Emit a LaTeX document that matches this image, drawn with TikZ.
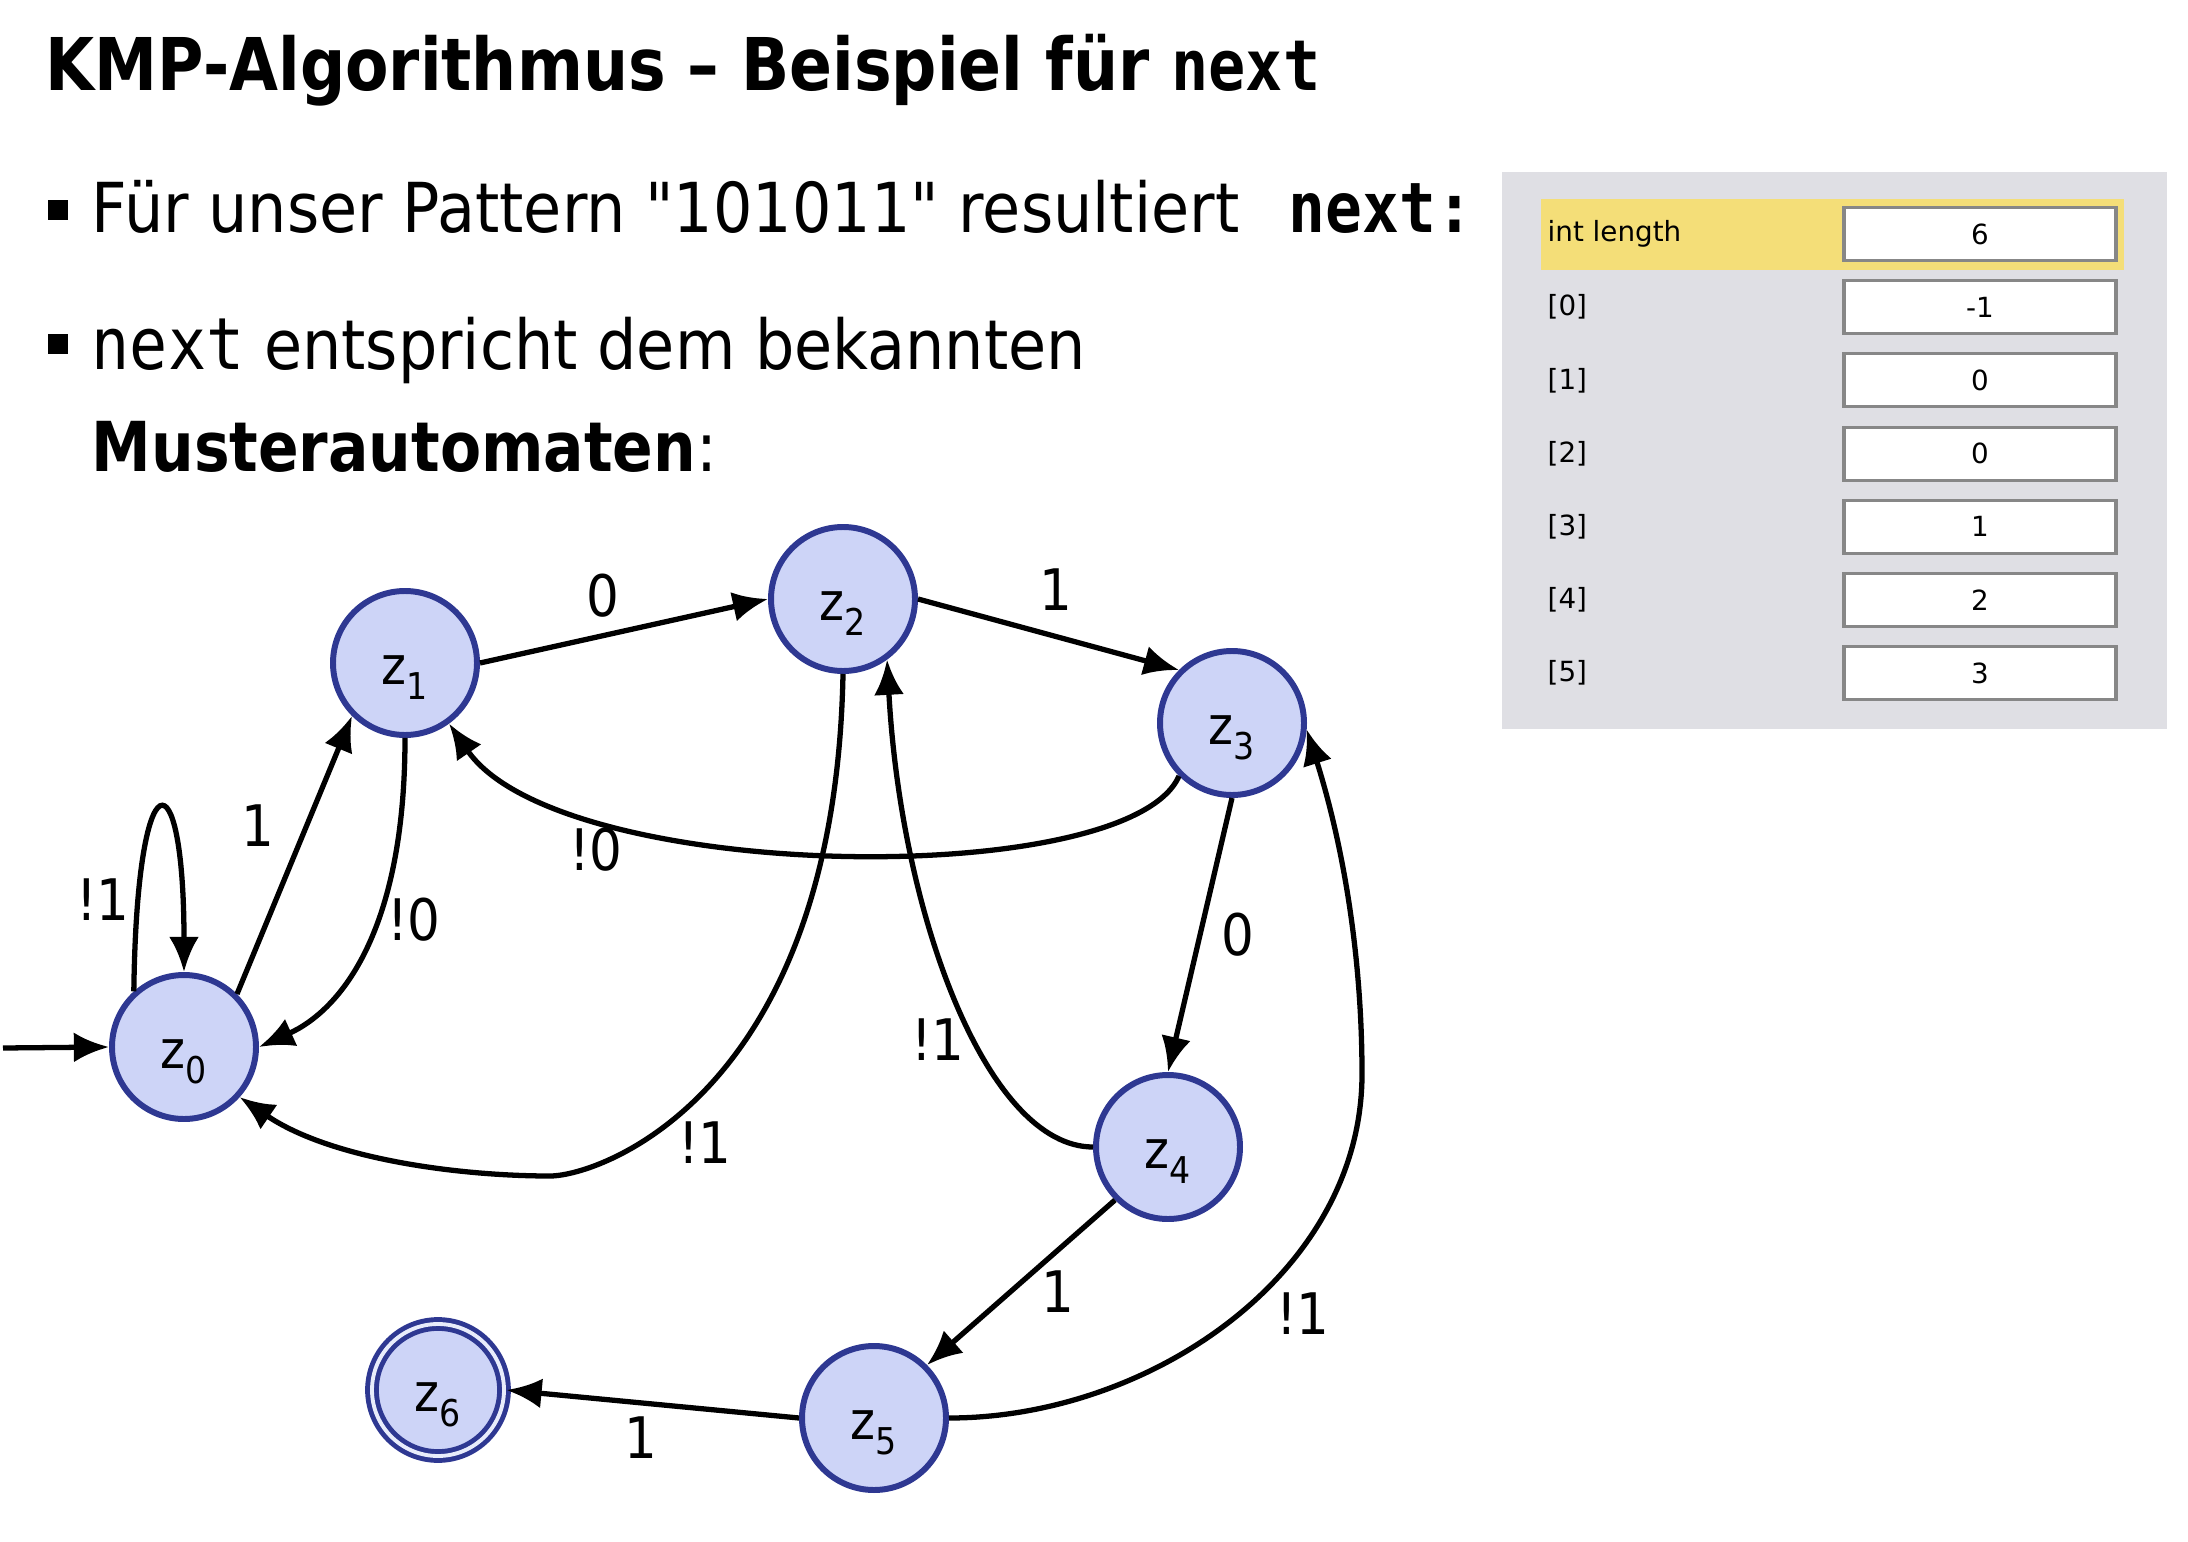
\documentclass[tikz,border=0pt]{standalone}
\usepackage{fontspec}
\setmainfont{DejaVu Sans}[FakeStretch=0.9,Ligatures=TeXOff,BoldFeatures={FakeStretch=0.87}]
\newfontfamily\monofam{DejaVu Sans Mono}[FakeStretch=0.88]
\newfontfamily\tabfam{DejaVu Sans}
\usetikzlibrary{arrows.meta}
\definecolor{statefill}{RGB}{205,212,247}
\definecolor{stateline}{RGB}{46,56,146}
\definecolor{panelgray}{RGB}{223,223,228}
\definecolor{rowyellow}{RGB}{244,222,120}
\definecolor{boxline}{RGB}{135,135,135}
\newcommand\zst[1]{z\raisebox{-0.55ex}{\fontsize{10.5}{10}\selectfont #1}}

\begin{document}
\begin{tikzpicture}[
  >={Latex[length=10pt,width=8.5pt]},
  zstate/.style={circle,draw=stateline,fill=statefill,line width=1.7pt,minimum size=1.44cm,inner sep=0pt,
    text height=12pt,text depth=0pt,font=\fontsize{15}{16}\selectfont},
  zfinal/.style={zstate,line width=1.4pt,minimum size=1.32cm,double=white!55!statefill,double distance=1.1pt},
  trans/.style={->,line width=1.5pt},
  lbl/.style={inner sep=0pt,font=\fontsize{16.3}{18}\selectfont},
  txt/.style={anchor=base west,inner sep=0pt,font=\fontsize{19.6}{24}\selectfont},
  valbox/.style={draw=boxline,fill=white,line width=0.9pt,minimum width=2.72cm,minimum height=0.53cm,
    inner sep=0pt,font=\tabfam\fontsize{7.9}{9}\selectfont},
]
\useasboundingbox (0,0) rectangle (21.88,-15.42);

\node[txt,font=\bfseries\fontsize{20.7}{24}\selectfont] (title) at (0.45,-0.91)
  {KMP-Algorithmus – Beispiel für {\monofam\fontsize{20}{24}\selectfont next}};

\fill (0.48,-2.00) rectangle (0.68,-2.20);
\node[txt] (pattern) at (0.91,-2.33)
  {Für unser Pattern "101011" resultiert\hspace{14pt}{\monofam\bfseries\fontsize{19.8}{24}\selectfont next:}};
\fill (0.48,-3.34) rectangle (0.68,-3.54);
\node[txt] (nextline) at (0.91,-3.70)
  {{\monofam\fontsize{20.5}{24}\selectfont next} entspricht dem bekannten};
\node[txt] (muster) at (0.91,-4.72) {\textbf{Musterautomaten}:};

\fill[panelgray] (15.02,-1.72) rectangle (21.67,-7.29);
\fill[rowyellow] (15.41,-1.99) rectangle (21.24,-2.70);
\foreach \name/\val [count=\i from 0] in {int length/6,{[0]}/-1,{[1]}/0,{[2]}/0,{[3]}/1,{[4]}/2,{[5]}/3}
{
  \node[anchor=west,inner sep=0pt,font=\tabfam\fontsize{7.9}{9}\selectfont] (key\i) at (15.47,{-2.34-0.732*\i}) {\name};
  \node[valbox] (val\i) at (19.80,{-2.34-0.732*\i}) {\val};
}

\node[zstate] (z0) at (1.84,-10.47) {\zst{0}};
\node[zstate] (z1) at (4.05,-6.63) {\zst{1}};
\node[zstate] (z2) at (8.43,-5.99) {\zst{2}};
\node[zstate] (z3) at (12.32,-7.23) {\zst{3}};
\node[zstate] (z4) at (11.68,-11.47) {\zst{4}};
\node[zstate] (z5) at (8.74,-14.18) {\zst{5}};
\node[zfinal] (z6) at (4.38,-13.90) {\zst{6}};

\coordinate (init) at (0.03,-10.48);
\coordinate (low) at (5.50,-11.76);
\coordinate (bend) at (13.62,-10.74);

\draw[trans] (init) -- (z0.west);
\draw[trans] (z0.132) .. controls +(0.03,2.38) and +(0,2.2) .. (z0.north);
\draw[trans] (z0.45) -- (z1.-135);
\draw[trans] (z1.south) .. controls +(0,-1.93) and +(0.82,0.37) .. (z0.east);
\draw[trans] (z1.east) -- (z2.west);
\draw[trans] (z2.east) -- (z3.135);
\draw[trans] (z3.225) .. controls +(-0.5,-1.15) and +(1.1,-1.6) .. (z1.-54);
\draw[trans] (z3.south) -- (z4.north);
\draw[trans] (z4.west) .. controls +(-1.05,0) and +(0.14,-2.58) .. (z2.-54);
\draw[trans] (z2.south) .. controls +(-0.08,-4.2) and +(0.5,0) .. (low)
  .. controls +(-0.91,0) and +(0.91,-0.62) .. (z0.-42);
\draw[trans] (z4.-135) -- (z5.45);
\draw[trans] (z5.west) -- (z6.east);
\draw[trans] (z5.east) .. controls +(2,0) and +(0,-2) .. (bend)
  .. controls +(0,1.2) and +(0.36,-1.14) .. (z3.-5);

\node[lbl] (l00) at (1.03,-9.00) {!1};
\node[lbl] (l01) at (2.58,-8.26) {1};
\node[lbl] (l10) at (4.14,-9.20) {!0};
\node[lbl] (l12) at (6.03,-5.96) {0};
\node[lbl] (l23) at (10.56,-5.90) {1};
\node[lbl] (l31) at (5.96,-8.50) {!0};
\node[lbl] (l34) at (12.38,-9.35) {0};
\node[lbl] (l42) at (9.38,-10.40) {!1};
\node[lbl] (l20) at (7.05,-11.43) {!1};
\node[lbl] (l45) at (10.58,-12.92) {1};
\node[lbl] (l53) at (13.03,-13.14) {!1};
\node[lbl] (l56) at (6.41,-14.38) {1};
\end{tikzpicture}
\end{document}
